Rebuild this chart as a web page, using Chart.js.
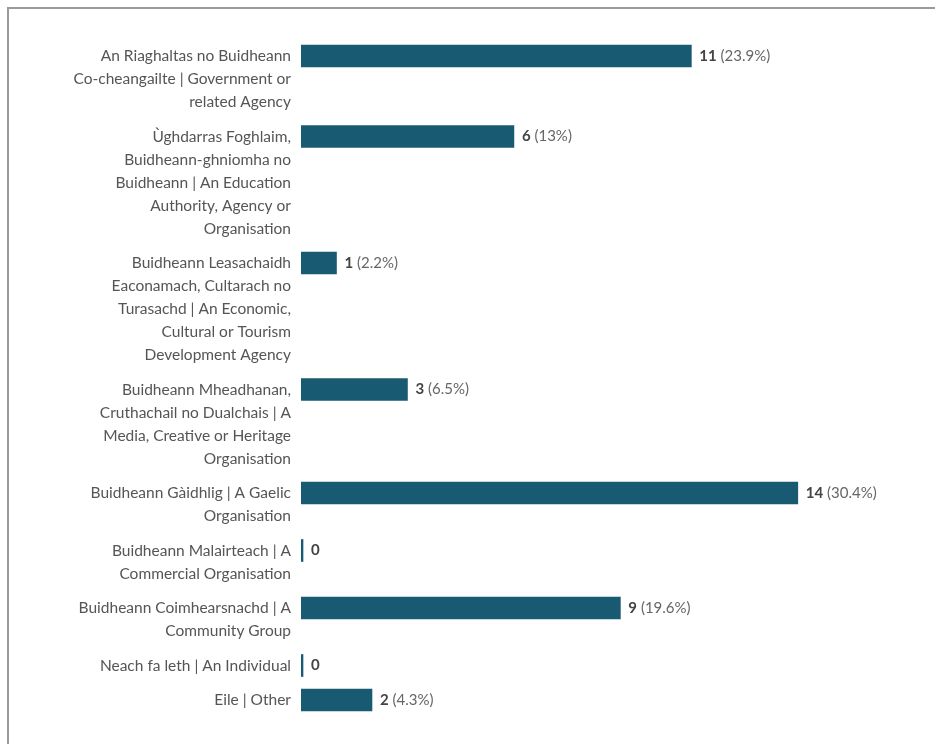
<!DOCTYPE html>
<html>
<head>
<meta charset="utf-8">
<script src="https://cdn.jsdelivr.net/npm/chart.js@4/dist/chart.umd.min.js"></script>
<style>
  html, body { margin: 0; padding: 0; background: #fff; }
  #wrap { position: relative; width: 935px; height: 744px; }
  #frame { position: absolute; left: 7px; top: 7px; right: 0; bottom: 0; border-top: 2px solid #9a9a9a; border-left: 2px solid #9a9a9a; }
  canvas { position: absolute; left: 0; top: 0; }
</style>
</head>
<body>
<div id="wrap">
  <div id="frame"></div>
  <canvas id="chart" width="935" height="744"></canvas>
</div>
<script>
// categories (line breaks as in the original)
const categories = [
    ["An Riaghaltas no Buidheann", "Co-cheangailte | Government or", "related Agency"],
    ["Ùghdarras Foghlaim,", "Buidheann-ghniomha no", "Buidheann | An Education", "Authority, Agency or", "Organisation"],
    ["Buidheann Leasachaidh", "Eaconamach, Cultarach no", "Turasachd | An Economic,", "Cultural or Tourism", "Development Agency"],
    ["Buidheann Mheadhanan,", "Cruthachail no Dualchais | A", "Media, Creative or Heritage", "Organisation"],
    ["Buidheann Gàidhlig | A Gaelic", "Organisation"],
    ["Buidheann Malairteach | A", "Commercial Organisation"],
    ["Buidheann Coimhearsnachd | A", "Community Group"],
    ["Neach fa leth | An Individual"],
    ["Eile | Other"]
];
const counts = [11, 6, 1, 3, 14, 0, 9, 0, 2];
const percents = ["23.9%", "13%", "2.2%", "6.5%", "30.4%", null, "19.6%", null, "4.3%"];

// each category takes as many rows as its label has lines, plus half a row gap
const rows = [];
let acc = 0;
categories.forEach(c => { rows.push(acc); acc += c.length + 0.5; });

const textGray = "#555";
const barColor = "#175a72";

const valueLabels = {
    id: "valueLabels",
    afterDatasetsDraw(chart) {
        const ctx = chart.ctx;
        const meta = chart.getDatasetMeta(0);
        ctx.save();
        ctx.textBaseline = "middle";
        ctx.textAlign = "left";
        meta.data.forEach((bar, i) => {
            let x = bar.x + 8;
            ctx.font = "bold 15px Lato";
            ctx.fillStyle = "#444";
            const num = String(counts[i]);
            ctx.fillText(num, x, bar.y);
            if (percents[i]) {
                x += ctx.measureText(num).width;
                ctx.font = "15px Lato";
                ctx.fillStyle = "#666";
                ctx.fillText(" (" + percents[i] + ")", x, bar.y);
            }
        });
        ctx.restore();
    }
};

const chart = new Chart(document.getElementById("chart").getContext("2d"), {
    type: "bar",
    data: {
        datasets: [{
            data: counts.map((v, i) => ({ x: v, y: rows[i] })),
            backgroundColor: barColor,
            borderWidth: 0,
            barThickness: 22,
            minBarLength: 2
        }]
    },
    options: {
        indexAxis: "y",
        responsive: false,
        animation: false,
        layout: { padding: { top: 33, bottom: 21, left: 0, right: 13 } },
        plugins: { legend: { display: false }, tooltip: { enabled: false } },
        scales: {
            x: { display: false, min: 0, max: 17.5 },
            y: {
                type: "linear",
                reverse: true,
                offset: false,
                min: -1,
                max: acc - 0.5,
                grid: { display: false, drawTicks: false },
                border: { display: false },
                afterBuildTicks: scale => {
                    scale.ticks = categories.map((c, i) => ({ value: rows[i] + (c.length - 1) / 2 }));
                },
                afterFit: scale => {
                    scale.width = 301;
                    scale.paddingTop = 0;
                    scale.paddingBottom = 0;
                },
                ticks: {
                    autoSkip: false,
                    padding: 10,
                    color: textGray,
                    font: { family: "Lato", size: 15.5, lineHeight: 23 / 15.5 },
                    callback: (value, index) => categories[index]
                }
            }
        }
    },
    plugins: [valueLabels]
});
</script>
</body>
</html>
